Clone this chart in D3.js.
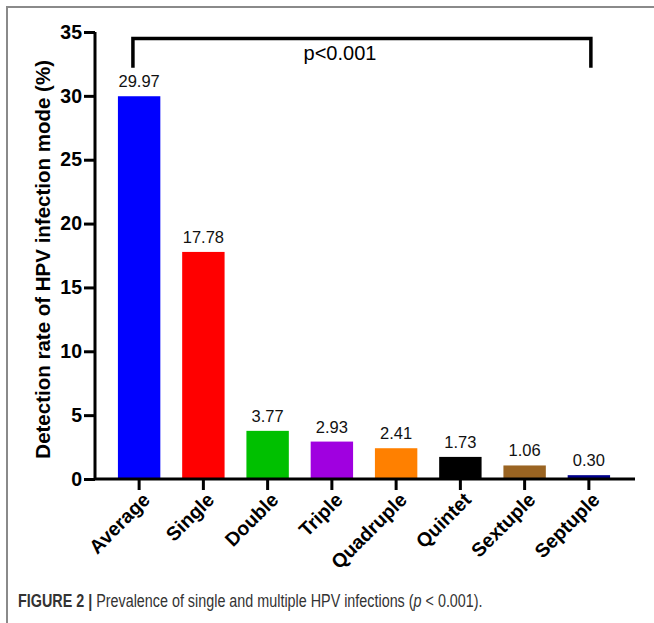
<!DOCTYPE html>
<html>
<head>
<meta charset="utf-8">
<script src="https://cdn.jsdelivr.net/npm/d3@7"></script>
<style>
  body { margin: 0; background: #fff; }
  svg { display: block; font-family: "Liberation Sans", Arial, sans-serif; }
</style>
</head>
<body>
<script>
// infection modes and detection rates (%)
let categories = ["Average", "Single", "Double", "Triple", "Quadruple", "Quintet", "Sextuple", "Septuple"];
let rates = [29.97, 17.78, 3.77, 2.93, 2.41, 1.73, 1.06, 0.30];
let rateLabels = ["29.97", "17.78", "3.77", "2.93", "2.41", "1.73", "1.06", "0.30"];
let barColors = ["#0000ff", "#ff0000", "#00c000", "#a000e0", "#ff8000", "#000000", "#9a6422", "#00008b"];
let yTicks = [0, 5, 10, 15, 20, 25, 30, 35];

let width = 654;
let height = 623;

let svg = d3.select("body")
    .append("svg")
    .attr("width", width)
    .attr("height", height)

// grey frame of the figure panel
svg.append("path")
    .attr("d", "M7,623 V7 H654")
    .attr("fill", "none")
    .attr("stroke", "#8a8a8a")
    .attr("stroke-width", 2)

let xScale = d3.scaleBand()
    .domain(categories)
    .range([107, 621])
    .paddingInner(0.34)
    .paddingOuter(0.17)

let yScale = d3.scaleLinear()
    .domain([0, 35])
    .range([479, 32])

// bars
svg.selectAll("rect.bar")
    .data(categories)
    .enter()
    .append("rect")
    .attr("class", "bar")
    .attr("x", (d) => xScale(d))
    .attr("y", (d, i) => yScale(rates[i]))
    .attr("width", xScale.bandwidth())
    .attr("height", (d, i) => yScale(0) - yScale(rates[i]))
    .attr("fill", (d, i) => barColors[i])

// value labels
svg.selectAll("text.val")
    .data(categories)
    .enter()
    .append("text")
    .attr("class", "val")
    .attr("x", (d) => xScale(d) + xScale.bandwidth() / 2)
    .attr("y", (d, i) => yScale(rates[i]) - 9)
    .attr("text-anchor", "middle")
    .attr("font-size", 16.5)
    .attr("fill", "#111")
    .text((d, i) => rateLabels[i])

// y axis
let yAxis = d3.axisLeft(yScale).tickValues(yTicks).tickSize(11).tickPadding(2)
let gy = svg.append("g")
    .attr("transform", "translate(95,0)")
    .call(yAxis)
gy.select(".domain").attr("d", "M0," + yScale(0) + "V" + yScale(35))
gy.selectAll("path, line").attr("stroke", "#000").attr("stroke-width", 3)
gy.selectAll("text")
    .attr("font-size", 19.5)
    .attr("font-weight", "bold")
    .attr("font-family", "Liberation Sans, Arial, sans-serif")
    .attr("fill", "#000")

// x axis
let xAxis = d3.axisBottom(xScale).tickSize(11).tickSizeOuter(0)
let gx = svg.append("g")
    .attr("transform", "translate(0," + yScale(0) + ")")
    .call(xAxis)
gx.select(".domain").attr("d", "M95,0H635")
gx.selectAll("path, line").attr("stroke", "#000").attr("stroke-width", 3)
gx.selectAll("text")
    .attr("font-size", 19.5)
    .attr("font-weight", "bold")
    .attr("font-family", "Liberation Sans, Arial, sans-serif")
    .attr("fill", "#000")
    .attr("text-anchor", "end")
    .attr("dy", 0)
    .attr("transform", "translate(12,22) rotate(-45)")
    .attr("y", 0)
    .attr("x", 0)

// y axis label
svg.append("text")
    .attr("transform", "translate(50," + yScale(17.2) + ") rotate(-90)")
    .attr("text-anchor", "middle")
    .attr("font-size", 20.5)
    .attr("font-weight", "bold")
    .text("Detection rate of HPV infection mode (%)")

// significance bracket
let bx1 = xScale("Average") + 15;
let bx2 = xScale("Septuple") + xScale.bandwidth() / 2 + 2;
svg.append("path")
    .attr("d", "M" + bx1 + "," + yScale(32.2) + "V" + yScale(34.5) + "H" + bx2 + "V" + yScale(32.2))
    .attr("fill", "none")
    .attr("stroke", "#000")
    .attr("stroke-width", 3.5)
svg.append("text")
    .attr("x", 340)
    .attr("y", yScale(32.8))
    .attr("text-anchor", "middle")
    .attr("font-size", 20)
    .text("p<0.001")

// caption (condensed face in the original, so squeeze it horizontally)
let cap = svg.append("text")
    .attr("transform", "translate(18,607) scale(0.82,1)")
    .attr("font-size", 17.5)
    .attr("fill", "#333")
cap.append("tspan").attr("font-weight", "bold").text("FIGURE 2 | ")
cap.append("tspan").text("Prevalence of single and multiple HPV infections (")
cap.append("tspan").attr("font-style", "italic").text("p")
cap.append("tspan").text(" < 0.001).")
</script>
</body>
</html>
